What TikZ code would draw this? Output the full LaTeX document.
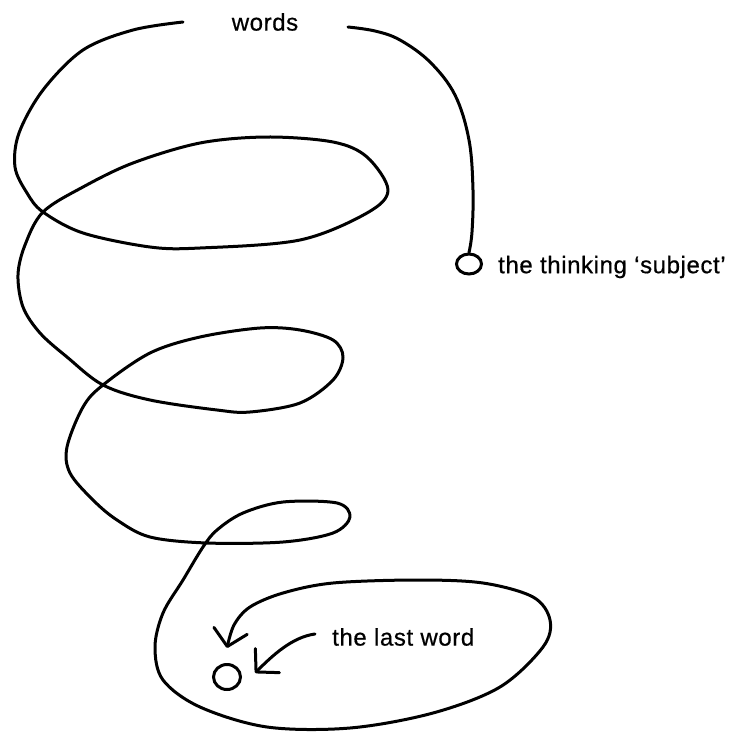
\documentclass[tikz,border=0pt]{standalone}
\usepackage{fontspec}
\setmainfont{Liberation Sans}
\newfontfamily\lblfont{Liberation Sans}[FakeBold=0.6, LetterSpace=2.5]
\usetikzlibrary{shapes.geometric,arrows.meta}
\tikzset{
  line/.style={line width=3pt, line cap=round, line join=round},
  lbl/.style={font=\lblfont\fontsize{24}{28}\selectfont, inner sep=0pt},
  ring/.style={ellipse, draw, line width=3pt, inner sep=0pt},
  barb/.style={-{Straight Barb[length=16pt 0 0, width=34pt 0 0, line width=3pt, line cap=round, line join=round]}}
}
\begin{document}
\begin{tikzpicture}[x=1pt,y=-1pt]
\useasboundingbox (0,0) rectangle (728,736);
% labels
\node[lbl] (words) at (265,22) {words};
\node[lbl, anchor=west] (subjlbl) at (498,267) {the thinking ‘subject’};
\node[lbl, anchor=west] (lastlbl) at (332,637) {the last word};
% rings
\node[ring, minimum width=25pt, minimum height=20pt] (subj) at (469,264) {};
\node[ring, minimum width=27pt, minimum height=25pt] (last) at (227,677) {};
% gap ends beside "words"
\coordinate (wl) at (183,22);
\coordinate (wr) at (348,27);
% thread from the thinking subject up to the words
\draw[line] plot[smooth, tension=0.6] coordinates {
  (subj.north) (472,232) (473,190) (469,140) (455,95) (430,62) (400,40) (375,31) (wr)};
% the spiral down to the last word
\draw[line, barb] plot[smooth, tension=0.55] coordinates {
  (wl) (133,30) (83,50) (43,90) (19,133) (15,167) (27,193) (43,212) (83,233)
  (150,247) (200,248) (300,240) (367,213) (388,190) (367,157) (333,142)
  (267,137) (200,143) (133,163) (83,187) (43,212) (25,245) (18,275) (23,307)
  (40,333) (67,357) (103,385) (150,400) (217,410) (250,412) (300,403)
  (333,380) (343,357) (333,340) (300,330) (260,328) (200,337) (150,353)
  (103,385) (83,407) (67,447) (70,473) (93,500) (117,520) (150,537)
  (207,543) (283,542) (333,533) (350,517) (337,503) (283,502) (243,513)
  (217,530) (203,547) (183,580) (163,613) (155,647) (163,680) (200,707)
  (267,727) (350,728) (433,713) (500,687) (543,647) (550,620) (533,597)
  (483,583) (417,580) (333,583) (283,593) (250,607) (234,625)
  ([yshift=15pt]last.north)};
% pointer from the label
\draw[line, barb] ([xshift=-17pt,yshift=3pt]lastlbl.west) .. controls (292,637) and (272,656) .. ([shift={(13pt,4pt)}]last.east);
\end{tikzpicture}
\end{document}
